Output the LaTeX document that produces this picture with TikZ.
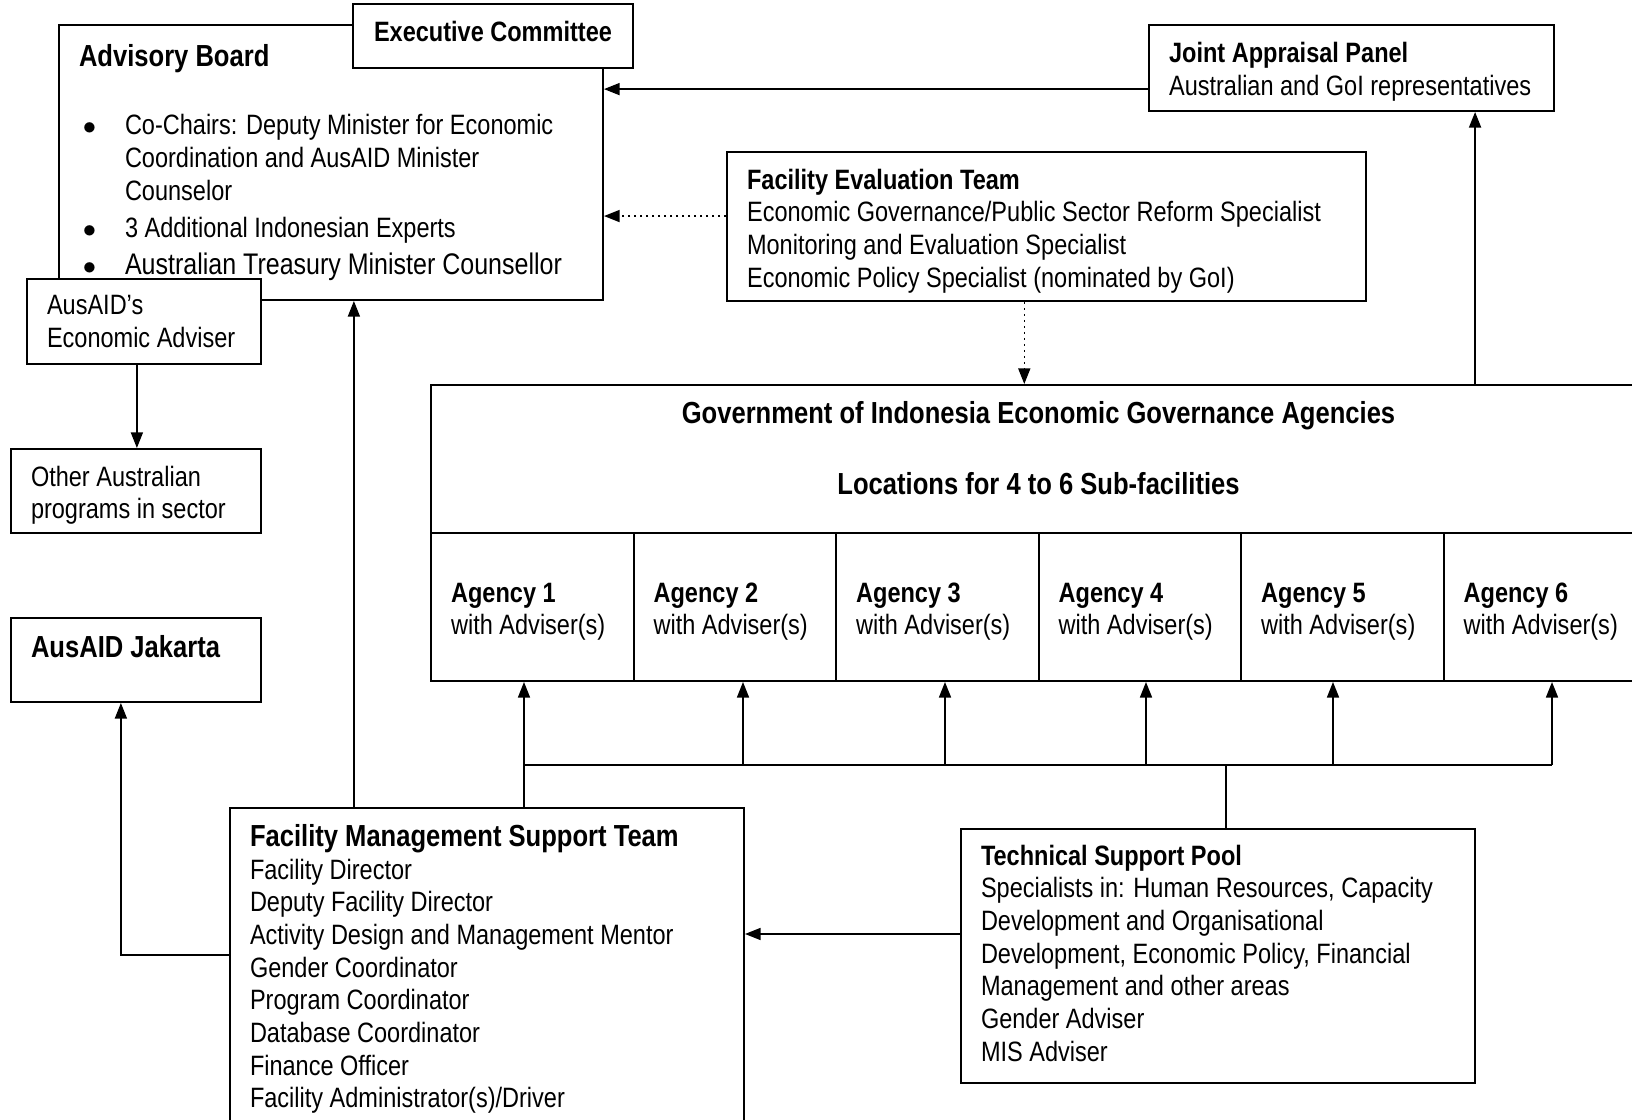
\documentclass[tikz,border=0pt]{standalone}
\usepackage{fontspec}
\setmainfont{Liberation Sans}[FakeStretch=0.84]
\usepackage{enumitem}
\usetikzlibrary{arrows.meta,positioning}

\newcommand\bigtxt{\fontsize{13.7}{16}\selectfont}
\newcommand\topgap[1]{\rule{0pt}{#1}}

\tikzset{
  box/.style 2 args={draw, line width=0.9pt, fill=white, inner sep=0pt, anchor=north west,
    minimum width=#1, minimum height=#2},
  wire/.style={line width=0.7pt},
  link/.style={wire, -{Triangle[length=7pt,width=5.4pt]}},
}

\begin{document}
\begin{tikzpicture}[x=0.45pt, y=-0.45pt, font=\fontsize{12.6}{14.7}\selectfont]
  \useasboundingbox (0,0) rectangle (1632,1120);

  % left column
  \node[box={244.8pt}{123.75pt}, text width=226.8pt, align=flush left] (adv) at (58,24) {{\bigtxt\textbf{Advisory Board}}\par\vspace{16pt}
    \begin{itemize}[label=$\bullet$, leftmargin=20.7pt, labelsep=13pt, itemsep=2pt, topsep=0pt, parsep=0pt, partopsep=0pt]
      \item Co-Chairs: Deputy Minister for Economic\newline Coordination and AusAID Minister\newline Counselor
      \item 3 Additional Indonesian Experts
      \item {\fontsize{13.4}{16}\selectfont Australian Treasury Minister Counsellor}
    \end{itemize}};
  \node[box={126pt}{28.8pt}, align=center, text depth=3.8pt] (exec) at (352,3) {\textbf{Executive Committee}};
  \node[box={105.3pt}{38.25pt}, text width=87.3pt, align=flush left] (econ) at (26,278) {AusAID’s\\Economic Adviser};
  \node[box={112.5pt}{37.8pt}, text width=94.5pt, align=flush left] (other) at (10,448) {\topgap{13pt}Other Australian\\programs in sector};
  \node[box={112.5pt}{37.8pt}, text width=94.5pt, align=flush left] (jak) at (10,617) {\topgap{16.6pt}{\bigtxt\textbf{AusAID Jakarta}}\\\strut};

  % top right
  \node[box={182.25pt}{38.7pt}, text width=164.2pt, align=flush left] (jap) at (1148,24) {\topgap{12.5pt}\textbf{Joint Appraisal Panel}\\Australian and GoI representatives};
  \node[box={287.55pt}{67.05pt}, text width=269.5pt, align=flush left] (fet) at (726,151) {\topgap{13pt}\textbf{Facility Evaluation Team}\\Economic Governance/Public Sector Reform Specialist\\Monitoring and Evaluation Specialist\\Economic Policy Specialist (nominated by GoI)};

  % agencies
  \node[box={546.75pt}{133.2pt}] (goi) at (430,384) {};
  \node[below=7.5pt of goi.north, align=center, inner sep=0pt, font=\bigtxt] (goihead) {\textbf{Government of Indonesia Economic Governance Agencies}\\[16pt]\textbf{Locations for 4 to 6 Sub-facilities}};
  \foreach \i [evaluate=\i as \xl using 430+202.5*(\i-1)] in {1,...,6}
    \node[box={91.125pt}{66.6pt}, text width=73pt, align=flush left] (ag\i) at (\xl,532) {\topgap{13pt}\textbf{Agency \i}\\with Adviser(s)};

  % bottom
  \node[box={231.3pt}{144.9pt}, text width=213.3pt, align=flush left] (fmst) at (229,807) {{\bigtxt\textbf{Facility Management Support Team}}\\Facility Director\\Deputy Facility Director\\Activity Design and Management Mentor\\Gender Coordinator\\Program Coordinator\\Database Coordinator\\Finance Officer\\Facility Administrator(s)/Driver};
  \node[box={231.3pt}{114.3pt}, text width=213.3pt, align=flush left] (tsp) at (960,828) {\textbf{Technical Support Pool}\\Specialists in: Human Resources, Capacity\\Development and Organisational\\Development, Economic Policy, Financial\\Management and other areas\\Gender Adviser\\MIS Adviser\rule[-2.8pt]{0pt}{0pt}};

  % connectors
  \draw[link] ([yshift=-9.5pt]jap.west) -- ([yshift=-9.5pt]jap.west -| adv.east);
  \draw[link, dotted] ([yshift=4.7pt]fet.west) -- ([yshift=4.7pt]fet.west -| adv.east);
  \draw[link, dotted] ([xshift=-10pt]fet.south) -- ([xshift=-10pt]fet.south |- goi.north);
  \draw[link] ([xshift=55.6pt]jap.south |- goi.north) -- ([xshift=55.6pt]jap.south);
  \draw[link] ([xshift=-3.2pt]econ.south) -- ([xshift=-3.2pt]econ.south |- other.north);
  \draw[link] ([xshift=-59.9pt]fmst.north) -- ([xshift=-59.9pt]fmst.north |- adv.south);
  \draw[link] ([yshift=6.3pt]fmst.west) -| ([xshift=-6.8pt]jak.south);
  \draw[link] ([yshift=9.9pt]tsp.west) -- ([yshift=9.9pt]tsp.west -| fmst.east);

  \foreach \i/\x in {1/524, 2/743, 3/945, 4/1146, 5/1333, 6/1552} {
    \coordinate (bus\i) at (\x,765);
    \draw[link] (bus\i) -- (bus\i |- ag\i.south);
  }
  \draw[wire] (bus1) -- (bus6);
  \draw[wire] (bus1 |- fmst.north) -- (bus1);
  \draw[wire] ([xshift=3.6pt]tsp.north) -- ([xshift=3.6pt]tsp.north |- bus1);
\end{tikzpicture}
\end{document}
